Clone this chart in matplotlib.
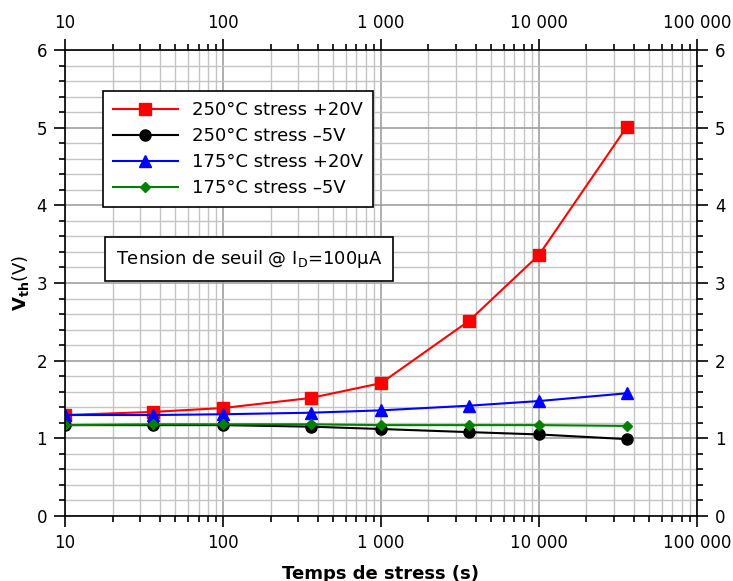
import numpy as np
import matplotlib
matplotlib.use('Agg')
import matplotlib.pyplot as plt
from matplotlib.ticker import LogLocator, FuncFormatter, MultipleLocator

# stress time (s)
t = [10, 36, 100, 360, 1000, 3600, 10000, 36000]

vth_250_p20 = [1.30, 1.34, 1.39, 1.52, 1.71, 2.51, 3.36, 5.01]
vth_250_m5 = [1.17, 1.17, 1.17, 1.15, 1.12, 1.08, 1.05, 0.99]
vth_175_p20 = [1.30, 1.30, 1.31, 1.33, 1.36, 1.42, 1.48, 1.58]
vth_175_m5 = [1.17, 1.18, 1.18, 1.18, 1.17, 1.17, 1.17, 1.16]

labels = ['250°C stress +20V', '250°C stress –5V', '175°C stress +20V', '175°C stress –5V']

plt.rcParams['font.family'] = 'DejaVu Sans'

fig = plt.figure(figsize=(7.33, 5.81), dpi=100)
ax = fig.add_axes([0.0887, 0.1119, 0.862, 0.802])

ax.plot(t, vth_250_p20, color='red', marker='s', markersize=8, lw=1.5, label=labels[0])
ax.plot(t, vth_250_m5, color='black', marker='o', markersize=8, lw=1.5, label=labels[1])
ax.plot(t, vth_175_p20, color='blue', marker='^', markersize=8, lw=1.5, label=labels[2])
ax.plot(t, vth_175_m5, color='green', marker='D', markersize=5, lw=1.5, label=labels[3])

ax.set_xscale('log')
ax.set_xlim(10, 100000)
ax.set_ylim(0, 6)

def thousands(x, pos):
    return '{:,}'.format(int(round(x))).replace(',', ' ')

ax.xaxis.set_major_locator(LogLocator(base=10, numticks=10))
ax.xaxis.set_minor_locator(LogLocator(base=10, subs=np.arange(2, 10), numticks=20))
ax.xaxis.set_major_formatter(FuncFormatter(thousands))
ax.xaxis.set_minor_formatter(FuncFormatter(lambda x, p: ''))
ax.yaxis.set_major_locator(MultipleLocator(1))
ax.yaxis.set_minor_locator(MultipleLocator(0.2))

ax.grid(which='major', color='#a0a0a0', lw=1.2)
ax.grid(which='minor', color='#c4c4c4', lw=1.0)
ax.set_axisbelow(True)

ax.tick_params(which='both', direction='out', top=True, right=True,
               labeltop=True, labelright=True, labelsize=12, width=1.2)
ax.tick_params(which='major', length=8, pad=5)
ax.tick_params(which='minor', length=4)
for s in ax.spines.values():
    s.set_linewidth(1.2)

ax.set_xlabel('Temps de stress (s)', fontsize=13, fontweight='bold', labelpad=9)
ax.set_ylabel(r'$\mathbf{V_{th}}$(V)', fontsize=13, labelpad=4)

leg = ax.legend(loc='upper left', bbox_to_anchor=(0.06, 0.912), borderaxespad=0,
                fontsize=13, frameon=True, fancybox=False, edgecolor='black', framealpha=1,
                handlelength=3.6, borderpad=0.55, labelspacing=0.45, handletextpad=0.8)
leg.get_frame().set_linewidth(1.2)

ax.text(0.08, 0.552, r'Tension de seuil @ I$_\mathregular{D}$=100µA', transform=ax.transAxes,
        fontsize=13, va='center', ha='left',
        bbox=dict(boxstyle='square,pad=0.6', facecolor='white', edgecolor='black', lw=1.2))

fig.savefig('out.png', dpi=100)
